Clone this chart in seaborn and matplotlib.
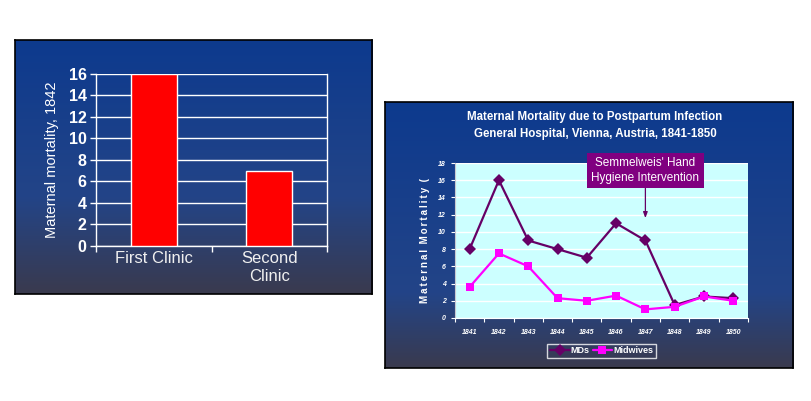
import numpy as np
import pandas as pd
import matplotlib
matplotlib.use("Agg")
import matplotlib.pyplot as plt
import seaborn as sns

# data
clinics = ["First Clinic", "Second\nClinic"]
mortality_1842 = [16, 7]

years = [1841, 1842, 1843, 1844, 1845, 1846, 1847, 1848, 1849, 1850]
mds = [8, 16, 9, 8, 7, 11, 9, 1.5, 2.5, 2.3]
midwives = [3.6, 7.5, 6, 2.3, 2.0, 2.6, 1.0, 1.3, 2.5, 2.0]

sns.set_style("white")
plt.rcParams["font.family"] = ["Liberation Sans", "DejaVu Sans"]

fig = plt.figure(figsize=(8.12, 4.01), dpi=100)
fig.patch.set_facecolor("white")


def slide_bg(rect, start):
    # blue slide background fading to grey at the bottom
    bg = fig.add_axes(rect)
    t = np.linspace(0, 1, 300)
    stops = [0, start, 1]
    top = np.array([13, 58, 142]) / 255
    mid = np.array([35, 68, 135]) / 255
    bot = np.array([58, 58, 78]) / 255
    cols = np.stack([np.interp(t, stops, [top[i], mid[i], bot[i]]) for i in range(3)], axis=1)
    img = np.repeat(cols[:, None, :], 2, axis=1)
    bg.imshow(img, aspect="auto", extent=[0, 1, 0, 1])
    bg.set_xticks([])
    bg.set_yticks([])
    for s in bg.spines.values():
        s.set_color("black")
        s.set_linewidth(1.2)
    return bg


slide_bg([0.0185, 0.2668, 0.4397, 0.6334], 0.62)
slide_bg([0.4741, 0.0823, 0.5025, 0.6633], 0.72)

# ---- left chart: bars
ax1 = fig.add_axes([0.1188, 0.3873, 0.2839, 0.4282])
ax1.set_facecolor("none")
sns.barplot(x=clinics, y=mortality_1842, color="#ff0000", saturation=1,
            edgecolor="white", linewidth=1, width=0.4, ax=ax1, zorder=3)
ax1.set_ylim(0, 16)
ax1.set_xlim(-0.5, 1.5)
ax1.set_yticks(range(0, 17, 2))
ax1.yaxis.grid(True, color="white", linewidth=1)
ax1.set_axisbelow(True)
for s in ["left", "bottom", "right"]:
    ax1.spines[s].set_color("white")
    ax1.spines[s].set_linewidth(1)
ax1.spines["top"].set_visible(False)
ax1.tick_params(axis="y", colors="white", length=4, width=1, labelsize=11.5,
                direction="out", left=True, pad=3)
for lab in ax1.get_yticklabels():
    lab.set_fontweight("bold")
ax1.set_xticks([0, 1])
ax1.set_xticklabels(clinics, color="#f0f0f0", fontsize=12, linespacing=1.2)
ax1.tick_params(axis="x", length=0, pad=4)
ax1.set_xticks([-0.5, 0.5, 1.5], minor=True)
ax1.tick_params(axis="x", which="minor", length=4, width=1, color="white", bottom=True)
ax1.set_ylabel("Maternal mortality, 1842", color="white", fontsize=10.5, labelpad=7)

# ---- right chart: lines
df = pd.DataFrame({
    "year": years * 2,
    "value": mds + midwives,
    "group": ["MDs"] * len(years) + ["Midwives"] * len(years),
})
ax2 = fig.add_axes([0.5603, 0.2070, 0.3608, 0.3865])
ax2.set_facecolor("#ccffff")
sns.lineplot(data=df, x="year", y="value", hue="group", style="group",
             palette={"MDs": "#660066", "Midwives": "#ff00ff"},
             markers={"MDs": "D", "Midwives": "s"}, dashes=False,
             markersize=6, linewidth=1.6, markeredgewidth=0, ax=ax2, zorder=3)
ax2.set_xlim(years[0] - 0.5, years[-1] + 0.5)
ax2.set_ylim(0, 18)
ax2.set_yticks(range(0, 19, 2))
ax2.yaxis.grid(True, color="white", linewidth=1)
ax2.set_axisbelow(True)
for s in ["top", "right"]:
    ax2.spines[s].set_visible(False)
ax2.spines["left"].set_color("#c8c8d0")
ax2.spines["bottom"].set_color("white")
ax2.tick_params(axis="y", colors="white", length=3, width=0.8, labelsize=5, left=True)
for lab in ax2.get_yticklabels():
    lab.set_fontweight("bold")
    lab.set_fontstyle("italic")
ax2.set_xticks(years)
ax2.set_xticklabels([str(y) for y in years], color="white", fontsize=5,
                    fontweight="bold", fontstyle="italic")
ax2.tick_params(axis="x", length=0, pad=8)
ax2.set_xticks([y - 0.5 for y in years] + [years[-1] + 0.5], minor=True)
ax2.tick_params(axis="x", which="minor", length=3, width=0.8, color="white", bottom=True)
ax2.set_xlabel("")
ax2.set_ylabel("\u2009".join("Maternal Mortality (").replace("\u2009 \u2009", "  "),
               color="white", fontsize=7, fontweight="bold", labelpad=6)

ax2.annotate("Semmelweis' Hand\nHygiene Intervention", xy=(1847, 11.6), xytext=(1847, 17.1),
             ha="center", va="center", color="white", fontsize=8.5,
             linespacing=1.3,
             bbox=dict(boxstyle="square,pad=0.35", fc="#800080", ec="none"),
             arrowprops=dict(arrowstyle="-|>,head_length=0.4,head_width=0.15",
                             color="#660066", lw=0.9, shrinkA=0, shrinkB=0),
             annotation_clip=False, zorder=5)

leg = ax2.legend(loc="center", bbox_to_anchor=(0.741, 0.1247),
                 bbox_transform=fig.transFigure, ncol=2, frameon=True,
                 fontsize=6.5, handlelength=2.2, columnspacing=0.3, handletextpad=0.1,
                 borderpad=0.3, fancybox=False)
leg.get_frame().set_facecolor("none")
leg.get_frame().set_edgecolor("white")
for t in leg.get_texts():
    t.set_color("white")
    t.set_fontweight("bold")

fig.text(0.7328, 0.708, "Maternal Mortality due to Postpartum Infection",
         ha="center", va="center", color="white", fontsize=8.3, fontweight="bold")
fig.text(0.7328, 0.666, "General Hospital, Vienna, Austria, 1841-1850",
         ha="center", va="center", color="white", fontsize=8.3, fontweight="bold")

fig.savefig("out.png", dpi=100, facecolor="white")
